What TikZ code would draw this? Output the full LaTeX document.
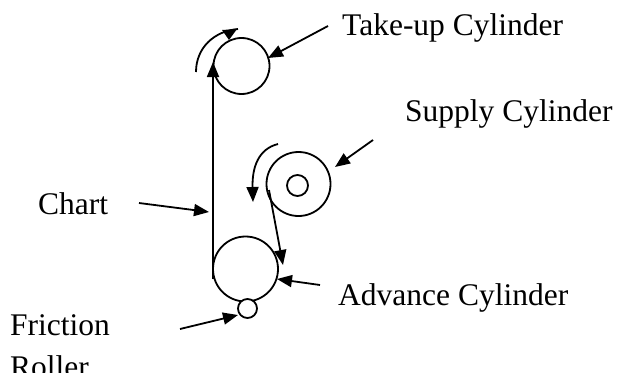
\documentclass[tikz,border=0pt]{standalone}
\usepackage{fontspec}
\setmainfont{Liberation Serif}
\usetikzlibrary{arrows.meta}
\begin{document}
\begin{tikzpicture}[x=1pt,y=-1pt,
  lw/.style={line width=1.8pt},
  arr/.style={lw,-{Triangle[length=15pt,width=12pt]}},
  cyl/.style={circle,draw,lw,inner sep=0pt,fill=white},
  lbl/.style={inner sep=0pt,anchor=base west,font=\fontsize{31.5}{37}\selectfont}]
\useasboundingbox (0,0) rectangle (618,372);
% cylinders
\node[cyl,minimum size=56pt] (tu) at (241.5,66) {};
\node[cyl,minimum size=64pt] (su) at (298.5,184) {};
\node[cyl,minimum size=21pt] (sui) at (297.5,185.5) {};
\node[cyl,minimum size=65pt] (adv) at (245.5,269) {};
% chart paths
\coordinate (chb) at (213,279);
\coordinate (cht) at (213,62);
\draw[arr] (chb) -- (cht);
\coordinate (sul) at (269,190);
\coordinate (adt) at (283,265);
\draw[arr] (sul) -- (adt);
\node[cyl,minimum size=19pt] (fr) at (247.5,308.5) {};
% rotation arrows
\coordinate (tua) at (196,72);
\coordinate (tub) at (238,29);
\draw[lw] (tua) .. controls (196,48) and (214,31) .. (tub);
\fill (222,30) -- (237,29) -- (229,40) -- cycle;
\coordinate (sua) at (278,144);
\coordinate (sub) at (253,202);
\draw[arr] (sua) .. controls (258,149) and (252,168) .. (sub);
% labels
\node[lbl] (ltu) at (342,35) {Take-up Cylinder};
\node[lbl] (lsu) at (405,121) {Supply Cylinder};
\node[lbl] (lch) at (38,214) {Chart};
\node[lbl] (lad) at (338,305) {Advance Cylinder};
\node[lbl] (lfr) at (10,335) {Friction};
\node[lbl] (lro) at (10,377) {Roller};
% label arrows
\coordinate (ltus) at (328,26);
\coordinate (ltut) at (268,58);
\draw[arr] (ltus) -- (ltut);
\coordinate (lsus) at (373,140);
\coordinate (lsut) at (335,167);
\draw[arr] (lsus) -- (lsut);
\coordinate (lchs) at (139,203);
\coordinate (lcht) at (209,212);
\draw[arr] (lchs) -- (lcht);
\coordinate (lads) at (320,285);
\coordinate (ladt) at (277,279);
\draw[arr] (lads) -- (ladt);
\coordinate (lfrs) at (180,329);
\coordinate (lfrt) at (238,315);
\draw[arr] (lfrs) -- (lfrt);
\end{tikzpicture}
\end{document}
